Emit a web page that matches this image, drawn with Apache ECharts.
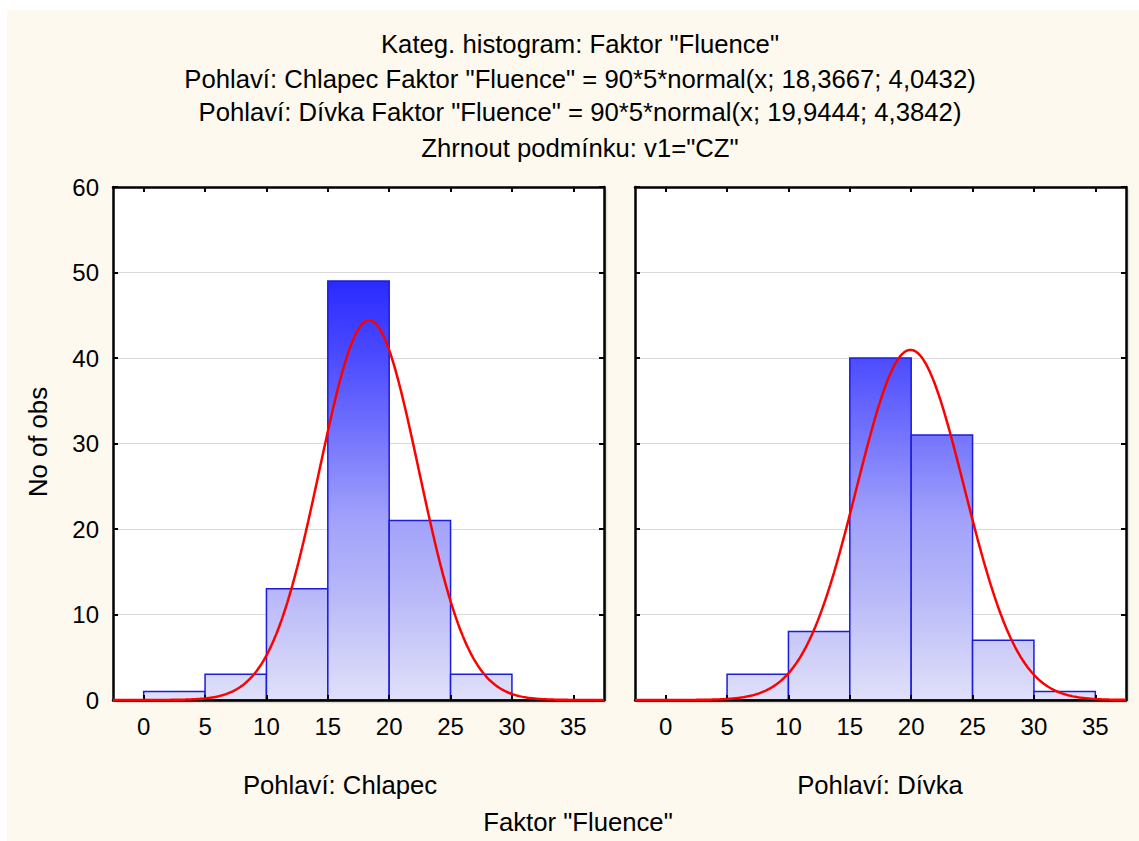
<!DOCTYPE html>
<html>
<head>
<meta charset="utf-8">
<title>Kateg. histogram: Faktor "Fluence"</title>
<script src="https://cdn.jsdelivr.net/npm/echarts@6/dist/echarts.min.js"></script>
<style>
  html, body { margin: 0; padding: 0; background: #ffffff; }
  #chart { position: absolute; left: 7px; top: 10px; width: 1132px; height: 831px; }
</style>
</head>
<body>
<div id="chart"></div>
<script>
// Histogram bins (lower edges) and bin width
const binStarts = [0, 5, 10, 15, 20, 25, 30];
const binWidth = 5;

// Observed counts per bin
const countsChlapec = [1, 3, 13, 49, 21, 3, 0];
const countsDivka = [0, 3, 8, 40, 31, 7, 1];

// Fitted normal curves: 90*5*normal(x; mean; sd)
const fitScale = [90, 5];
const fitChlapec = [18.3667, 4.0432];
const fitDivka = [19.9444, 4.3842];

// Panel labels and axis text
const panelNames = ['Pohlaví: Chlapec', 'Pohlaví: Dívka'];
const xTickValues = [0, 5, 10, 15, 20, 25, 30, 35];
const titleLines = [
  'Kateg. histogram: Faktor "Fluence"',
  'Pohlaví: Chlapec Faktor "Fluence" = 90*5*normal(x; 18,3667; 4,0432)',
  'Pohlaví: Dívka Faktor "Fluence" = 90*5*normal(x; 19,9444; 4,3842)',
  'Zhrnout podmínku: v1="CZ"'
];
const xAxisTitle = 'Faktor "Fluence"';
const yAxisTitle = 'No of obs';

const FONT = '"Liberation Sans", Arial, sans-serif';
const X_MIN = -2.5, X_MAX = 37.5, Y_MIN = 0, Y_MAX = 60;

// Bar fill colour by count level (shared across both panels)
const fillStops = [
  [0, '#e0e0fa'], [13, '#b6b6f9'], [21, '#a2a2fb'], [31, '#7474fd'],
  [40, '#4c4cff'], [49, '#2a2aff'], [60, '#1010ff']
];

function normalPdf(x, mu, sd) {
  const z = (x - mu) / sd;
  return Math.exp(-0.5 * z * z) / (sd * Math.sqrt(2 * Math.PI));
}

function curvePoints(fit) {
  const pts = [];
  const k = fitScale[0] * fitScale[1];
  for (let i = 0; i <= 400; i++) {
    const x = X_MIN + (X_MAX - X_MIN) * i / 400;
    pts.push([x, k * normalPdf(x, fit[0], fit[1])]);
  }
  return pts;
}

function binData(counts) {
  return binStarts.map((s, i) => [s, s + binWidth, counts[i]]);
}

function renderBin(params, api) {
  const x0 = api.value(0), x1 = api.value(1), v = api.value(2);
  const pTop = api.coord([x0, v]);
  const pBot = api.coord([x1, 0]);
  const yTopAxis = api.coord([0, Y_MAX])[1];
  const yZero = api.coord([0, 0])[1];
  const fill = {
    type: 'linear', global: true,
    x: 0, y: yZero, x2: 0, y2: yTopAxis,
    colorStops: fillStops.map(s => ({ offset: s[0] / Y_MAX, color: s[1] }))
  };
  return {
    type: 'rect',
    shape: { x: pTop[0], y: pTop[1], width: pBot[0] - pTop[0], height: pBot[1] - pTop[1] },
    style: { fill: fill, stroke: '#1c1cdc', lineWidth: 1.5 }
  };
}

const grids = [
  { left: 106, top: 177, width: 491, height: 513 },
  { left: 628, top: 177, width: 491, height: 513 }
];

const frameLine = { show: true, onZero: false, lineStyle: { color: '#000', width: 2.5 } };
const innerTick = { show: true, inside: true, length: 5, lineStyle: { color: '#000', width: 2 } };

const xAxes = [], yAxes = [];
grids.forEach((g, gi) => {
  xAxes.push({
    gridIndex: gi, type: 'value', position: 'bottom', min: X_MIN, max: X_MAX, z: 3,
    axisLine: frameLine,
    axisTick: Object.assign({}, innerTick, { customValues: xTickValues }),
    axisLabel: { show: true, customValues: xTickValues, color: '#000', fontSize: 24, fontFamily: FONT, margin: 14 },
    splitLine: { show: false }
  });
  xAxes.push({
    gridIndex: gi, type: 'value', position: 'top', min: X_MIN, max: X_MAX, z: 3,
    axisLine: frameLine,
    axisTick: Object.assign({}, innerTick, { customValues: xTickValues }),
    axisLabel: { show: false },
    splitLine: { show: false }
  });
  yAxes.push({
    gridIndex: gi, type: 'value', position: 'left', min: Y_MIN, max: Y_MAX, interval: 10, z: 3,
    axisLine: frameLine, axisTick: innerTick,
    axisLabel: { show: gi === 0, color: '#000', fontSize: 24, fontFamily: FONT, margin: 14 },
    splitLine: { show: false }
  });
  yAxes.push({
    gridIndex: gi, type: 'value', position: 'right', min: Y_MIN, max: Y_MAX, interval: 10, z: 3,
    axisLine: frameLine, axisTick: innerTick,
    axisLabel: { show: false },
    splitLine: { show: false }
  });
  yAxes.push({
    gridIndex: gi, type: 'value', position: 'left', min: Y_MIN, max: Y_MAX, interval: 10, z: 0,
    axisLine: { show: false }, axisTick: { show: false }, axisLabel: { show: false },
    splitLine: { show: true, lineStyle: { color: '#d9d9d9', width: 1 } }
  });
});

const panels = [
  { counts: countsChlapec, fit: fitChlapec },
  { counts: countsDivka, fit: fitDivka }
];

const series = [];
panels.forEach((p, gi) => {
  series.push({
    type: 'custom', name: panelNames[gi],
    xAxisIndex: gi * 2, yAxisIndex: gi * 3, z: 2,
    renderItem: renderBin,
    encode: { x: [0, 1], y: 2 },
    data: binData(p.counts)
  });
  series.push({
    type: 'line', name: panelNames[gi] + ' normal',
    xAxisIndex: gi * 2, yAxisIndex: gi * 3, z: 4,
    showSymbol: false, smooth: false, clip: true,
    lineStyle: { color: '#ff0000', width: 2.5 },
    data: curvePoints(p.fit)
  });
});

const textStyleBase = { fill: '#000', font: '25.7px ' + FONT, textAlign: 'center', textVerticalAlign: 'middle' };
const graphics = [];
const titleY = [34, 69, 102, 138];
titleLines.forEach((t, i) => {
  graphics.push({ type: 'text', x: 573, y: titleY[i], style: Object.assign({ text: t }, textStyleBase) });
});
graphics.push({ type: 'text', x: 333, y: 775, style: Object.assign({ text: panelNames[0] }, textStyleBase) });
graphics.push({ type: 'text', x: 873, y: 775, style: Object.assign({ text: panelNames[1] }, textStyleBase) });
graphics.push({ type: 'text', x: 571, y: 812, style: Object.assign({ text: xAxisTitle }, textStyleBase) });
graphics.push({ type: 'text', x: 31, y: 432, rotation: Math.PI / 2, style: Object.assign({ text: yAxisTitle }, textStyleBase) });

const chart = echarts.init(document.getElementById('chart'), null, { renderer: 'svg' });
chart.setOption({
  animation: false,
  backgroundColor: '#fdf9ef',
  grid: grids.map(g => Object.assign({
    show: true, backgroundColor: '#ffffff', borderWidth: 0,
    shadowColor: 'rgba(0,0,0,0.35)', shadowBlur: 2, shadowOffsetX: 2, shadowOffsetY: 2
  }, g)),
  xAxis: xAxes,
  yAxis: yAxes,
  series: series,
  graphic: graphics
});
</script>
</body>
</html>
